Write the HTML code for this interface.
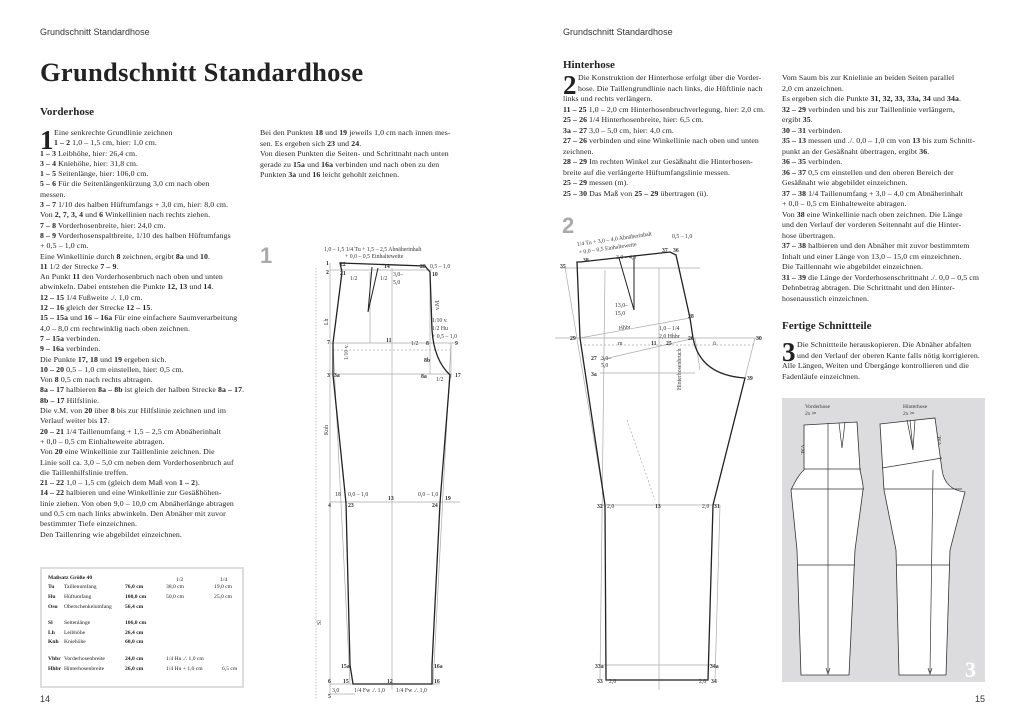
<!DOCTYPE html>
<html><head><meta charset="utf-8"><style>
body{margin:0;width:1024px;height:724px;background:#fff;position:relative;overflow:hidden;font-family:"Liberation Serif",serif;color:#222}
.a{position:absolute}
.t{font-size:7.8px;line-height:10.5px;white-space:nowrap;letter-spacing:0.1px}
.hd{font-family:"Liberation Sans",sans-serif;font-size:9px;color:#333}
b{font-weight:bold}
.big{position:absolute;font-weight:bold;font-size:27px;line-height:20px;left:0;top:2px}
.num{font-family:"Liberation Sans",sans-serif;font-size:22px;color:#aaa;font-weight:bold}
table{border-collapse:collapse;font-size:5.6px;table-layout:fixed}
td{padding:0;height:9.6px;white-space:nowrap;overflow:hidden}
svg text{font-family:"Liberation Serif",serif}
</style></head><body>
<div class="a hd" style="left:40px;top:27px">Grundschnitt Standardhose</div>
<div class="a hd" style="left:563px;top:27px">Grundschnitt Standardhose</div>
<div class="a" style="left:40px;top:57px;font-size:26.5px;font-weight:bold;letter-spacing:0.3px">Grundschnitt Standardhose</div>
<div class="a" style="left:40px;top:106px;font-size:11px;font-weight:bold">Vorderhose</div>
<div class="a t" style="left:40px;top:128px;line-height:10.3px"><span class="big">1</span><span style="padding-left:14px">Eine senkrechte Grundlinie zeichnen</span><br><span style="padding-left:14px"><b>1 – 2</b> 1,0 – 1,5 cm, hier: 1,0 cm.</span><br><b>1 – 3</b> Leibhöhe, hier: 26,4 cm.<br><b>3 – 4</b> Kniehöhe, hier: 31,8 cm.<br><b>1 – 5</b> Seitenlänge, hier: 106,0 cm.<br><b>5 – 6</b> Für die Seitenlängenkürzung 3,0 cm nach oben<br>messen.<br><b>3 – 7</b> 1/10 des halben Hüftumfangs + 3,0 cm, hier: 8,0 cm.<br>Von <b>2, 7, 3, 4</b> und <b>6</b> Winkellinien nach rechts ziehen.<br><b>7 – 8</b> Vorderhosenbreite, hier: 24,0 cm.<br><b>8 – 9</b> Vorderhosenspaltbreite, 1/10 des halben Hüftumfangs<br>+ 0,5 – 1,0 cm.<br>Eine Winkellinie durch <b>8</b> zeichnen, ergibt <b>8a</b> und <b>10</b>.<br><b>11</b> 1/2 der Strecke <b>7 – 9</b>.<br>An Punkt <b>11</b> den Vorderhosenbruch nach oben und unten<br>abwinkeln. Dabei entstehen die Punkte <b>12, 13</b> und <b>14</b>.<br><b>12 – 15</b> 1/4 Fußweite ./. 1,0 cm.<br><b>12 – 16</b> gleich der Strecke <b>12 – 15</b>.<br><b>15 – 15a</b> und <b>16 – 16a</b> Für eine einfachere Saumverarbeitung<br>4,0 – 8,0 cm rechtwinklig nach oben zeichnen.<br><b>7 – 15a</b> verbinden.<br><b>9 – 16a</b> verbinden.<br>Die Punkte <b>17, 18</b> und <b>19</b> ergeben sich.<br><b>10 – 20</b> 0,5 – 1,0 cm einstellen, hier: 0,5 cm.<br>Von <b>8</b> 0,5 cm nach rechts abtragen.<br><b>8a – 17</b> halbieren <b>8a – 8b</b> ist gleich der halben Strecke <b>8a – 17</b>.<br><b>8b – 17</b> Hilfslinie.<br>Die v.M. von <b>20</b> über <b>8</b> bis zur Hilfslinie zeichnen und im<br>Verlauf weiter bis <b>17</b>.<br><b>20 – 21</b> 1/4 Taillenumfang + 1,5 – 2,5 cm Abnäherinhalt<br>+ 0,0 – 0,5 cm Einhalteweite abtragen.<br>Von <b>20</b> eine Winkellinie zur Taillenlinie zeichnen. Die<br>Linie soll ca. 3,0 – 5,0 cm neben dem Vorderhosenbruch auf<br>die Taillenhilfslinie treffen.<br><b>21 – 22</b> 1,0 – 1,5 cm (gleich dem Maß von <b>1 – 2</b>).<br><b>14 – 22</b> halbieren und eine Winkellinie zur Gesäßhöhen-<br>linie ziehen. Von oben 9,0 – 10,0 cm Abnäherlänge abtragen<br>und 0,5 cm nach links abwinkeln. Den Abnäher mit zuvor<br>bestimmter Tiefe einzeichnen.<br>Den Taillenring wie abgebildet einzeichnen.</div>
<div class="a t" style="left:260px;top:128px">Bei den Punkten <b>18</b> und <b>19</b> jeweils 1,0 cm nach innen mes-<br>sen. Es ergeben sich <b>23</b> und <b>24</b>.<br>Von diesen Punkten die Seiten- und Schrittnaht nach unten<br>gerade zu <b>15a</b> und <b>16a</b> verbinden und nach oben zu den<br>Punkten <b>3a</b> und <b>16</b> leicht gehohlt zeichnen.</div>

<div class="a" style="left:40px;top:567px;width:204px;height:121px;border:2px solid #ddd;box-sizing:border-box;padding:4px 0 0 6px">
<table style="width:194px">
<colgroup><col style="width:16px"><col style="width:57px"><col style="width:45px"><col style="width:48px"><col style="width:28px"></colgroup>
<tr><td colspan="3" style="font-weight:bold">Maßsatz Größe 40</td><td style="padding-left:10px;vertical-align:bottom">1/2</td><td style="padding-left:6px;vertical-align:bottom">1/4</td></tr>
<tr><td><b>Tu</b></td><td>Taillenumfang</td><td style="padding-left:4px"><b>76,0 cm</b></td><td>38,0 cm</td><td>19,0 cm</td></tr>
<tr><td><b>Hu</b></td><td>Hüftumfang</td><td style="padding-left:4px"><b>100,0 cm</b></td><td>50,0 cm</td><td>25,0 cm</td></tr>
<tr><td><b>Osu</b></td><td>Oberschenkelumfang</td><td style="padding-left:4px"><b>56,4 cm</b></td><td></td><td></td></tr>
<tr><td colspan="5" style="height:7px"></td></tr>
<tr><td><b>Sl</b></td><td>Seitenlänge</td><td style="padding-left:4px"><b>106,0 cm</b></td><td></td><td></td></tr>
<tr><td><b>Lh</b></td><td>Leibhöhe</td><td style="padding-left:4px"><b>26,4 cm</b></td><td></td><td></td></tr>
<tr><td><b>Knh</b></td><td>Kniehöhe</td><td style="padding-left:4px"><b>60,0 cm</b></td><td></td><td></td></tr>
<tr><td colspan="5" style="height:7px"></td></tr>
<tr><td><b>Vhbr</b></td><td>Vorderhosenbreite</td><td style="padding-left:4px"><b>24,0 cm</b></td><td>1/4 Hu ./. 1,0 cm</td><td></td></tr>
<tr><td><b>Hhbr</b></td><td>Hinterhosenbreite</td><td style="padding-left:4px"><b>26,0 cm</b></td><td>1/4 Hu + 1,0 cm</td><td style="padding-left:8px">6,5 cm</td></tr>
</table></div>

<div class="a num" style="left:260px;top:243px">1</div>
<div class="a num" style="left:562px;top:213px">2</div>

<div class="a" style="left:563px;top:59px;font-size:11px;font-weight:bold">Hinterhose</div>
<div class="a t" style="left:563px;top:73px"><span class="big">2</span><span style="padding-left:15px">Die Konstruktion der Hinterhose erfolgt über die Vorder-</span><br><span style="padding-left:15px">hose. Die Taillengrundlinie nach links, die Hüftlinie nach</span><br>links und rechts verlängern.<br><b>11 – 25</b> 1,0 – 2,0 cm Hinterhosenbruchverlegung, hier: 2,0 cm.<br><b>25 – 26</b> 1/4 Hinterhosenbreite, hier: 6,5 cm.<br><b>3a – 27</b> 3,0 – 5,0 cm, hier: 4,0 cm.<br><b>27 – 26</b> verbinden und eine Winkellinie nach oben und unten<br>zeichnen.<br><b>28 – 29</b> Im rechten Winkel zur Gesäßnaht die Hinterhosen-<br>breite auf die verlängerte Hüftumfangslinie messen.<br><b>25 – 29</b> messen (m).<br><b>25 – 30</b> Das Maß von <b>25 – 29</b> übertragen (ü).</div>
<div class="a t" style="left:782px;top:73px">Vom Saum bis zur Knielinie an beiden Seiten parallel<br>2,0 cm anzeichnen.<br>Es ergeben sich die Punkte <b>31, 32, 33, 33a, 34</b> und <b>34a</b>.<br><b>32 – 29</b> verbinden und bis zur Taillenlinie verlängern,<br>ergibt <b>35</b>.<br><b>30 – 31</b> verbinden.<br><b>35 – 13</b> messen und ./. 0,0 – 1,0 cm von <b>13</b> bis zum Schnitt-<br>punkt an der Gesäßnaht übertragen, ergibt <b>36</b>.<br><b>36 – 35</b> verbinden.<br><b>36 – 37</b> 0,5 cm einstellen und den oberen Bereich der<br>Gesäßnaht wie abgebildet einzeichnen.<br><b>37 – 38</b> 1/4 Taillenumfang + 3,0 – 4,0 cm Abnäherinhalt<br>+ 0,0 – 0,5 cm Einhalteweite abtragen.<br>Von <b>38</b> eine Winkellinie nach oben zeichnen. Die Länge<br>und den Verlauf der vorderen Seitennaht auf die Hinter-<br>hose übertragen.<br><b>37 – 38</b> halbieren und den Abnäher mit zuvor bestimmtem<br>Inhalt und einer Länge von 13,0 – 15,0 cm einzeichnen.<br>Die Taillennaht wie abgebildet einzeichnen.<br><b>31 – 39</b> die Länge der Vorderhosenschrittnaht ./. 0,0 – 0,5 cm<br>Dehnbetrag abtragen. Die Schrittnaht und den Hinter-<br>hosenausstich einzeichnen.</div>
<div class="a" style="left:782px;top:320px;font-size:11px;font-weight:bold">Fertige Schnittteile</div>
<div class="a t" style="left:782px;top:340px"><span class="big">3</span><span style="padding-left:15px">Die Schnittteile herauskopieren. Die Abnäher abfalten</span><br><span style="padding-left:15px">und den Verlauf der oberen Kante falls nötig korrigieren.</span><br>Alle Längen, Weiten und Übergänge kontrollieren und die<br>Fadenläufe einzeichnen.</div>

<div class="a hd" style="left:40px;top:694px">14</div>
<div class="a hd" style="left:975px;top:694px">15</div>

<svg class="a" style="left:0;top:0" width="1024" height="724" viewBox="0 0 1024 724">
<g stroke="#aaa" stroke-width="0.7" fill="none">
<line x1="316" y1="268" x2="316" y2="700" stroke-dasharray="1.5,1.5"/>
<line x1="330" y1="263" x2="330" y2="694"/>
<line x1="330" y1="270" x2="432" y2="270"/>
<line x1="330" y1="343" x2="455" y2="343"/>
<line x1="330" y1="374" x2="452" y2="374"/>
<line x1="330" y1="502" x2="460" y2="502"/>
<line x1="330" y1="684" x2="440" y2="684"/>
<line x1="330" y1="694" x2="355" y2="694"/>
<line x1="392" y1="268" x2="392" y2="690"/>
<line x1="370" y1="272" x2="370" y2="343"/>
<line x1="430" y1="272" x2="430" y2="374"/>
<line x1="451" y1="343" x2="451" y2="378"/>
<line x1="333" y1="343" x2="350" y2="684"/>
<line x1="451" y1="343" x2="433" y2="684"/>
<line x1="333" y1="350" x2="450" y2="350" stroke-dasharray="2,2"/>
</g>
<path d="M340 263 L425 266 L430 272 L432 330 Q434 360 450 375 L440 503 L432 665 L432 684 L353 684 L350 665 L346 503 L333 375 L333 343 L342 272 Z" fill="none" stroke="#222" stroke-width="1.3"/>
<path d="M372 267 L368 312 L378 268" fill="none" stroke="#222" stroke-width="1"/>
<g font-size="5.8" fill="#333">
<text x="324" y="251">1,0 – 1,5  1/4 Tu + 1,5 – 2,5 Abnäherinhalt</text>
<text x="345" y="258">+ 0,0 – 0,5 Einhalteweite</text>
<text x="326" y="265" font-weight="bold">1</text><text x="340" y="266" font-weight="bold">22</text>
<text x="326" y="274" font-weight="bold">2</text><text x="340" y="275" font-weight="bold">21</text>
<text x="384" y="268" font-weight="bold">14</text><text x="420" y="268" font-weight="bold">20</text><text x="430" y="268">0,5 – 1,0</text>
<text x="432" y="276" font-weight="bold">10</text>
<text x="350" y="280">1/2</text><text x="380" y="280">1/2</text><text x="393" y="276">3,0–</text><text x="393" y="284">5,0</text>
<text x="426" y="323" transform="rotate(-90 426 310)">v.M.</text>
<text x="432" y="322">1/10 v.</text><text x="432" y="330">1/2 Hu</text><text x="432" y="338">+ 0,5 – 1,0</text>
<text x="327" y="344" font-weight="bold">7</text><text x="386" y="342" font-weight="bold">11</text><text x="411" y="345">1/2</text><text x="426" y="345" font-weight="bold">8</text><text x="455" y="345" font-weight="bold">9</text>
<text x="424" y="362" font-weight="bold">8b</text>
<text x="327" y="377" font-weight="bold">3</text><text x="334" y="377" font-weight="bold">3a</text><text x="421" y="378" font-weight="bold">8a</text><text x="436" y="381">1/2</text><text x="455" y="377" font-weight="bold">17</text>
<text x="335" y="496">18</text><text x="348" y="496">0,0 – 1,0</text><text x="418" y="496">0,0 – 1,0</text><text x="445" y="500" font-weight="bold">19</text>
<text x="328" y="507" font-weight="bold">4</text><text x="348" y="507" font-weight="bold">23</text><text x="388" y="500" font-weight="bold">13</text><text x="432" y="507" font-weight="bold">24</text>
<text x="341" y="668" font-weight="bold">15a</text><text x="434" y="668" font-weight="bold">16a</text>
<text x="328" y="683" font-weight="bold">6</text><text x="343" y="683" font-weight="bold">15</text><text x="387" y="683" font-weight="bold">12</text><text x="434" y="683" font-weight="bold">16</text>
<text x="332" y="692">3,0</text><text x="354" y="692">1/4 Fw ./. 1,0</text><text x="396" y="692">1/4 Fw ./. 1,0</text>
<text x="328" y="698" font-weight="bold">5</text>
<text x="323" y="330" transform="rotate(-90 323 325)">Lh</text>
<text x="323" y="440" transform="rotate(-90 323 435)">Knh</text>
<text x="316" y="630" transform="rotate(-90 316 625)">Sl</text>
<text x="340" y="368" transform="rotate(-90 340 360)">1/10 v.</text>
</g>
<g stroke="#aaa" stroke-width="0.7" fill="none">
<line x1="560" y1="268" x2="700" y2="268"/>
<line x1="555" y1="338" x2="760" y2="338"/>
<line x1="580" y1="345" x2="755" y2="345" stroke-dasharray="2,2"/>
<line x1="600" y1="373" x2="695" y2="373"/>
<line x1="600" y1="505" x2="720" y2="505"/>
<line x1="600" y1="665" x2="715" y2="665"/>
<line x1="659" y1="268" x2="659" y2="690"/>
<line x1="565" y1="267" x2="605" y2="505"/>
<line x1="755" y1="338" x2="713" y2="505"/>
<line x1="600" y1="360" x2="695" y2="338"/>
<line x1="580" y1="338" x2="690" y2="318"/>
<line x1="605" y1="270" x2="600" y2="680"/>
<line x1="720" y1="505" x2="715" y2="680"/>
<line x1="695" y1="338" x2="700" y2="370"/>
<line x1="627" y1="420" x2="655" y2="500" stroke-dasharray="2,2"/>
</g>
<path d="M580 262 L670 252 L676 255 L690 318 L693 338 Q700 375 745 378 L713 505 L708 680 L606 680 L605 505 L580 338 L577 262 Z" fill="none" stroke="#222" stroke-width="1.3"/>
<path d="M619 258 L634 310 L634 256" fill="none" stroke="#222" stroke-width="1"/>
<g font-size="5.8" fill="#333">
<text x="577" y="246" transform="rotate(-8 577 246)">1/4 Tu + 3,0 – 4,0 Abnäherinhalt</text>
<text x="579" y="254" transform="rotate(-8 579 254)">+ 0,0 – 0,5 Einhalteweite</text>
<text x="672" y="238">0,5 – 1,0</text>
<text x="560" y="268" font-weight="bold">35</text><text x="583" y="262" font-weight="bold">38</text><text x="616" y="259">3,0 – 4,0</text>
<text x="662" y="252" font-weight="bold">37</text><text x="673" y="252" font-weight="bold">36</text>
<text x="615" y="307">13,0–</text><text x="615" y="315">15,0</text>
<text x="619" y="330" transform="rotate(-8 619 330)">Hhbr</text>
<text x="688" y="318" font-weight="bold">28</text>
<text x="659" y="330">1,0 – 1/4</text><text x="659" y="338">2,0  Hhbr</text><text x="688" y="340" font-weight="bold">26</text>
<text x="570" y="340" font-weight="bold">29</text><text x="756" y="340" font-weight="bold">30</text>
<text x="618" y="345">m</text><text x="651" y="345" font-weight="bold">11</text><text x="666" y="345" font-weight="bold">25</text><text x="713" y="345">ü</text>
<text x="591" y="360" font-weight="bold">27</text><text x="601" y="360">3,0–</text><text x="601" y="367">5,0</text>
<text x="591" y="376" font-weight="bold">3a</text><text x="747" y="380" font-weight="bold">39</text>
<text x="666" y="405" transform="rotate(-90 666 390)">Hinterhosenbruch</text>
<text x="597" y="508" font-weight="bold">32</text><text x="607" y="508">2,0</text><text x="655" y="508" font-weight="bold">13</text><text x="702" y="508">2,0</text><text x="714" y="508" font-weight="bold">31</text>
<text x="595" y="668" font-weight="bold">33a</text><text x="710" y="668" font-weight="bold">34a</text>
<text x="597" y="683" font-weight="bold">33</text><text x="609" y="683">2,0</text><text x="699" y="683">2,0</text><text x="711" y="683" font-weight="bold">34</text>
</g>
<rect x="782" y="398" width="203" height="284" fill="#dcdcde"/>
<g fill="#fff" stroke="#333" stroke-width="0.8">
<path d="M804 425 L857 422 L860 470 Q864 488 863 490 L855 550 L849 675 L801 675 L797 550 L791 490 Q798 475 804 470 Z"/>
<path d="M880 424 L935 418 L942 470 Q945 490 965 492 L950 550 L946 675 L899 675 L896 550 L884 490 Z"/>
</g>
<g stroke="#333" stroke-width="0.7" fill="none">
<line x1="804" y1="469" x2="861" y2="469"/><line x1="791" y1="489" x2="864" y2="489"/><line x1="797" y1="565" x2="855" y2="565"/>
<line x1="828" y1="423" x2="828" y2="672"/><path d="M826 668 L828 674 L830 668"/>
<line x1="882" y1="468" x2="942" y2="458"/><line x1="884" y1="489" x2="962" y2="489"/><line x1="896" y1="565" x2="950" y2="565"/>
<line x1="933" y1="470" x2="930" y2="672"/><path d="M928 668 L930 674 L932 668"/>
<path d="M839 423 L842 448 L845 422"/><path d="M907 420 L913 450 L915 420 M910 420 L913 450"/>
</g>
<g font-size="5.5" fill="#333"><text x="805" y="408">Vorderhose</text><text x="805" y="415">2x ✂</text><text x="903" y="408">Hinterhose</text><text x="903" y="415">2x ✂</text>
<text x="808" y="452" transform="rotate(90 808 445)">v.M.</text><text x="934" y="452" transform="rotate(-90 934 445)">v.M.</text></g>
<text x="965" y="677" font-family="Liberation Sans" font-weight="bold" font-size="22" fill="#fff">3</text>
</svg>
</body></html>
